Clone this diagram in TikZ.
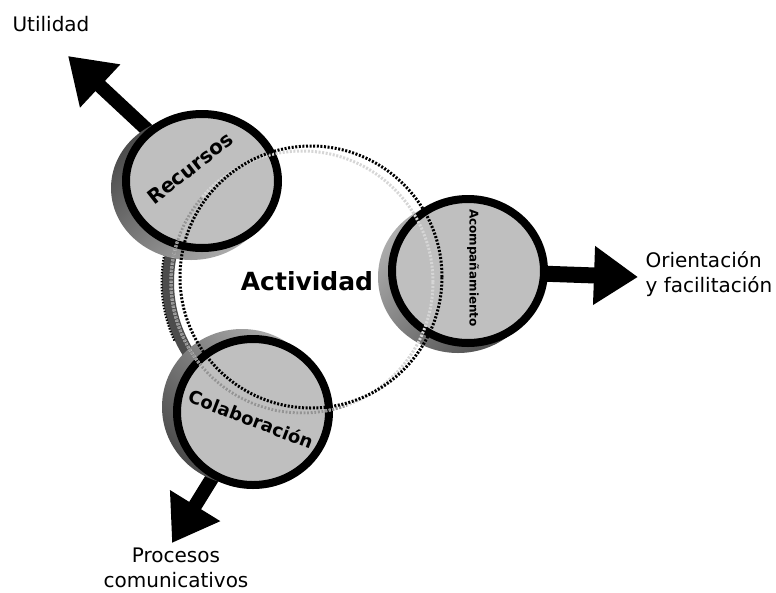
\documentclass[tikz,border=0pt]{standalone}
\usepackage{fontspec}
\setmainfont{DejaVu Sans}
\usetikzlibrary{arrows.meta}
\definecolor{diskfill}{gray}{0.75}
\definecolor{shadedark}{gray}{0.30}
\definecolor{shadelight}{gray}{0.68}
\definecolor{dotlight}{gray}{0.84}
\definecolor{dotmid}{gray}{0.58}
\tikzset{
  bigarrow/.style={line width=14pt,-{Triangle[length=44pt,width=56pt]}},
  disk/.style={fill=diskfill,draw=black,line width=8pt},
  dotring/.style={line width=3pt,dash pattern=on 2pt off 1.6pt},
  outlabel/.style={font=\fontsize{20}{25}\selectfont,align=center,inner sep=1pt},
  disklabel/.style={font=\bfseries,inner sep=0pt}
}
\begin{document}
\begin{tikzpicture}[x=1pt,y=-1pt]
\useasboundingbox[fill=white] (0,0) rectangle (776,592);

% centres of the three disks and of the activity ring
\coordinate (rec) at (202,181);
\coordinate (aco) at (468,271);
\coordinate (col) at (253,412);
\coordinate (act) at (311,277);
\coordinate (actsh) at (302,282);

% arrow tips
\coordinate (utiltip) at (68,56);
\coordinate (orientip) at (638,277);
\coordinate (proctip) at (172,543);

% thick arrows leaving the disks
\draw[bigarrow] (rec) -- (utiltip);
\draw[bigarrow,line width=16pt] (aco) -- (orientip);
\draw[bigarrow] (col) -- (proctip);

% dark band of the activity ring between the left disks
\draw[shadedark,line width=12pt] ([shift={(150:134pt)}]actsh) arc[start angle=150,end angle=218,radius=134pt];
\draw[black,line width=2pt,dash pattern=on 1.5pt off 1.5pt] ([shift={(160:140.5pt)}]actsh) arc[start angle=160,end angle=205,radius=140.5pt];

% disk shadows
\path[top color=shadedark,bottom color=shadelight,shading angle=45]
  ([shift={(-11,7)}]rec) ellipse [x radius=80pt,y radius=72pt];
\path[top color=shadelight,bottom color=shadedark,shading angle=45]
  ([shift={(-10,6)}]aco) ellipse [x radius=80pt,y radius=76pt];
\path[top color=shadelight,bottom color=shadedark,shading angle=-45]
  ([shift={(-11,-5)}]col) ellipse [x radius=80pt,y radius=78pt];

% disks
\draw[disk] (rec) ellipse [x radius=76pt,y radius=67pt];
\draw[disk] (aco) ellipse [x radius=76pt,y radius=72pt];
\draw[disk] (col) ellipse [x radius=76pt,y radius=73pt];

% activity ring: pale shadow ring, its darker lower-left part, main dotted ring
\draw[dotring,dotlight] (actsh) circle[radius=131pt];
\draw[dotring,dotmid] ([shift={(140:131pt)}]actsh) arc[start angle=140,end angle=290,radius=131pt];
\draw[dotring,black] (act) circle[radius=131pt];

% texts
\node[disklabel,font=\bfseries\fontsize{25}{30}\selectfont] (actividad) at (307,281) {Actividad};
\node[disklabel,font=\bfseries\fontsize{20}{24}\selectfont,rotate=38] (recursos) at (190,168) {Recursos};
\node[disklabel,font=\bfseries\fontsize{18}{22}\selectfont,rotate=-21] (colab) at (251,419) {Colaboración};
\node[disklabel,font=\bfseries\fontsize{12}{14}\selectfont,rotate=-90] (acomp) at (473,268) {Acompañamiento};

\node[outlabel] (utilidad) at (51,24) {Utilidad};
\node[outlabel,align=left] (orient) at (709,274) {Orientación\\y facilitación};
\node[outlabel] (procesos) at (176,568) {Procesos\\comunicativos};
\end{tikzpicture}
\end{document}
